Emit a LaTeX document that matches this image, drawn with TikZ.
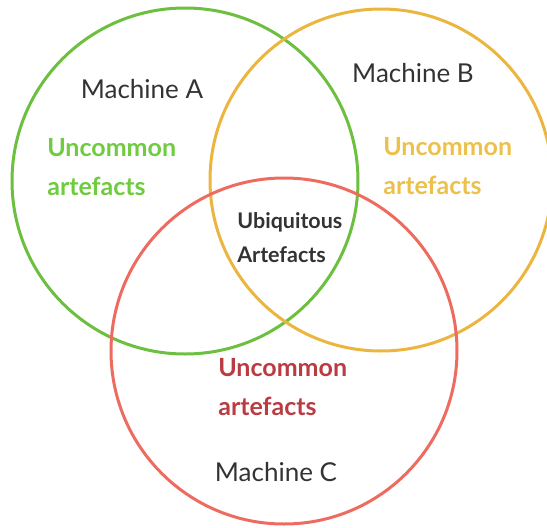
\documentclass[tikz,border=0pt]{standalone}
\usepackage{fontspec}
\setmainfont{Lato}
\usepackage{xcolor}
\usetikzlibrary{positioning}
\definecolor{vgreen}{HTML}{6CBF3F}
\definecolor{vorange}{HTML}{ECB53F}
\definecolor{vred}{HTML}{EE6B60}
\definecolor{tgreen}{HTML}{6FCB40}
\definecolor{torange}{HTML}{EBC14C}
\definecolor{tred}{HTML}{B83C42}
\definecolor{tdark}{HTML}{333333}
\begin{document}
\begin{tikzpicture}[x=1pt,y=-1pt,semithick]
 				 \tikzstyle{set}=[circle, minimum size=346pt, inner sep=0pt, line width=3pt]
 				 \tikzstyle{machine}=[text=tdark, font=\fontsize{26}{30}\selectfont]
 				 \tikzstyle{rare}=[align=left, inner sep=0pt, font=\bfseries\fontsize{25}{39}\selectfont]
 				 \useasboundingbox (0,0) rectangle (547,528);
 					 \node[set, draw=vgreen]  (A) at (185,181) {};
 					 \node[set, draw=vorange, minimum size=342pt] (B) at (381,180) {};
 					 \node[set, draw=vred]    (C) at (284,351) {};
					 \node[machine] (MA) at (142,89)  {Machine A};
					 \node[machine] (MB) at (413,73)  {Machine B};
					 \node[machine] (MC) at (276,472) {Machine C};
					 \node[rare, text=tgreen, anchor=west]  (RA) at (47,167)  {Uncommon\\artefacts};
					 \node[rare, text=torange, anchor=west] (RB) at (383,166) {Uncommon\\artefacts};
					 \node[rare, text=tred, anchor=west]    (RC) at (218,387) {Uncommon\\artefacts};
					 \node[align=left, inner sep=0pt, anchor=west, text=tdark, font=\bfseries\fontsize{21.5}{34}\selectfont] (U) at (237,238) {Ubiquitous\\Artefacts};
				\end{tikzpicture}
\end{document}
